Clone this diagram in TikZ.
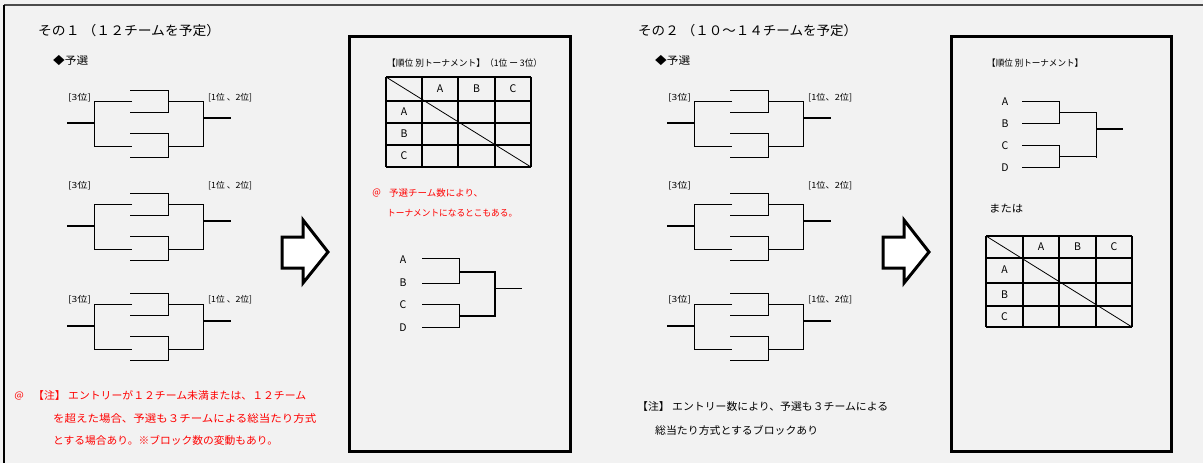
\documentclass[tikz,border=0pt]{standalone}
\usepackage{fontspec}
\usepackage{graphicx}
\setmainfont{Noto Sans CJK JP}
\newcommand{\fw}[2]{\resizebox{#1pt}{\height}{#2}}
\newcommand{\prelim}[6]{%
 \begin{scope}[shift={(#1,#2)}]
  \draw[stub] (67,123) -- (94,123);
  \draw[brk] (132,101) -- (94,101) -- (94,146) -- (132,146);
  \draw[brk] (130,90) -- (168,90) -- (168,112) -- (130,112);
  \draw[brk] (130,133) -- (168,133) -- (168,157) -- (130,157);
  \draw[brk] (168,101) -- (203,101) -- (203,146) -- (168,146);
  \draw[stub] (203,118) -- (231,118);
 \end{scope}
 \node[lbl] (#4l) at (#1+68,#5) {\fw{23}{[3位]}};
 \node[lbl] (#4r) at (#1+208,#5) {\fw{44}{#3}};}
\begin{document}
\begin{tikzpicture}[x=1pt,y=-1pt,
  brk/.style={line width=1pt,black},
  stub/.style={line width=2pt,black},
  lbl/.style={font=\fontsize{8.5}{9}\selectfont,inner sep=0pt,anchor=west},
  ttl/.style={font=\fontsize{13}{14}\selectfont,inner sep=0pt,anchor=west},
  sub/.style={font=\fontsize{10.5}{11}\selectfont,inner sep=0pt,anchor=west},
  hdr/.style={font=\fontsize{9}{10}\selectfont,inner sep=0pt,anchor=west},
  cell/.style={font=\fontsize{10.5}{11}\selectfont,inner sep=0pt},
  rnote/.style={font=\fontsize{10.5}{11}\selectfont,text=red,inner sep=0pt,anchor=west},
  rnotes/.style={font=\fontsize{9.2}{10}\selectfont,text=red,inner sep=0pt,anchor=west},
  bnote/.style={font=\fontsize{10.5}{11}\selectfont,inner sep=0pt,anchor=west},
  panel/.style={line width=3pt,black,fill=bgc},
  barrow/.style={line width=3pt,black,fill=white,line join=miter},
  grid/.style={line width=1.3pt,black}
]
\definecolor{bgc}{HTML}{F2F2F2}
\useasboundingbox (0,0) rectangle (1203,463);
\fill[bgc] (0,0) rectangle (1203,463);
\draw[line width=2pt,black!70] (4,5) -- (1210,5);
\draw[line width=2.5pt,black] (4,5) -- (4,470);

% ---------- part 1 ----------
\node[ttl] (t1) at (38,31) {\fw{182}{その１ （１２チームを予定）}};
\node[sub] (y1) at (53,61) {\fw{35}{◆予選}};
\prelim{0}{0}{[1位 、2位]}{a}{98}{}
\prelim{0}{103}{[1位 、2位]}{b}{186}{}
\prelim{0}{203}{[1位 、2位]}{c}{300}{}

\node[rnotes] (at1) at (14,396) {\fw{10}{＠}};
\node[rnote] (n1) at (33,396) {\fw{273}{【注】 エントリーが１２チーム未満または、１２チーム}};
\node[rnote] (n2) at (53,419) {\fw{263}{を超えた場合、予選も３チームによる総当たり方式}};
\node[rnote] (n3) at (53,440) {\fw{225}{とする場合あり。※ブロック数の変動もあり。}};

\draw[barrow] (282,237) -- (303,237) -- (303,220) -- (328,252) -- (303,283) -- (303,268) -- (282,268) -- cycle;

\draw[panel] (349,36) rectangle (570,451);
\node[hdr] (h1) at (387,63) {\fw{155}{【順位 別トーナメント】（1位 ー 3位）}};
\foreach \x in {386,422,458,495,531} \draw[grid] (\x,77) -- (\x,167);
\foreach \y in {77,101,123,145,167} \draw[grid] (386,\y) -- (531,\y);
\draw[line width=0.8pt] (386,77) -- (531,167);
\node[cell] (c1a) at (440,89) {A};
\node[cell] (c1b) at (476.5,89) {B};
\node[cell] (c1c) at (513,89) {C};
\node[cell] (r1a) at (404,112) {A};
\node[cell] (r1b) at (404,134) {B};
\node[cell] (r1c) at (404,156) {C};
\node[rnotes] (at2) at (372,193) {\fw{9}{＠}};
\node[rnotes] (m1) at (389,193) {\fw{94}{予選チーム数により、}};
\node[rnotes] (m2) at (387,213) {\fw{130}{トーナメントになるとこもある。}};

\node[cell] (ta) at (403,260) {A};
\node[cell] (tb) at (403,283) {B};
\node[cell] (tc) at (403,305) {C};
\node[cell] (td) at (403,328) {D};
\draw[brk] (422,258) -- (459,258) -- (459,283) -- (422,283);
\draw[brk] (422,304) -- (459,304) -- (459,327) -- (422,327);
\draw[line width=1.5pt] (459,272) -- (495,272) -- (495,316) -- (459,316);
\draw[brk] (495,288) -- (522,288);

% ---------- part 2 ----------
\node[ttl] (t2) at (638,31) {\fw{219}{その２ （１０～１４チームを予定）}};
\node[sub] (y2) at (655,61) {\fw{35}{◆予選}};
\prelim{600}{0}{[1位、2位]}{d}{98}{}
\prelim{600}{103}{[1位、2位]}{e}{186}{}
\prelim{600}{203}{[1位、2位]}{f}{300}{}

\node[bnote] (n4) at (637,407) {\fw{251}{【注】 エントリー数により、予選も３チームによる}};
\node[bnote] (n5) at (655,430) {\fw{163}{総当たり方式とするブロックあり}};

\draw[barrow] (883,237) -- (904,237) -- (904,220) -- (929,252) -- (904,283) -- (904,268) -- (883,268) -- cycle;

\draw[panel] (951,36) rectangle (1171,451);
\node[hdr] (h2) at (987,63) {\fw{96}{【順位 別トーナメント】}};
\node[cell] (ua) at (1005,102) {A};
\node[cell] (ub) at (1005,124) {B};
\node[cell] (uc) at (1005,146) {C};
\node[cell] (ud) at (1005,168) {D};
\draw[brk] (1022,101) -- (1059,101) -- (1059,123) -- (1022,123);
\draw[brk] (1022,145) -- (1059,145) -- (1059,168);
\draw[brk] (1059,167) -- (1022,167);
\draw[brk] (1059,112) -- (1096,112) -- (1096,158);
\draw[brk] (1096,156) -- (1059,156);
\draw[stub] (1096,129) -- (1123,129);
\node[sub] (mt) at (989,209) {\fw{34}{または}};

\foreach \x in {986,1023,1059,1096,1132} \draw[grid] (\x,236) -- (\x,327);
\foreach \y in {236,258,283,306,327} \draw[grid] (986,\y) -- (1132,\y);
\draw[line width=0.8pt] (986,236) -- (1132,327);
\node[cell] (c2a) at (1041,247) {A};
\node[cell] (c2b) at (1077.5,247) {B};
\node[cell] (c2c) at (1114,247) {C};
\node[cell] (r2a) at (1004.5,270) {A};
\node[cell] (r2b) at (1004.5,294.5) {B};
\node[cell] (r2c) at (1004.5,316.5) {C};
\end{tikzpicture}
\end{document}
